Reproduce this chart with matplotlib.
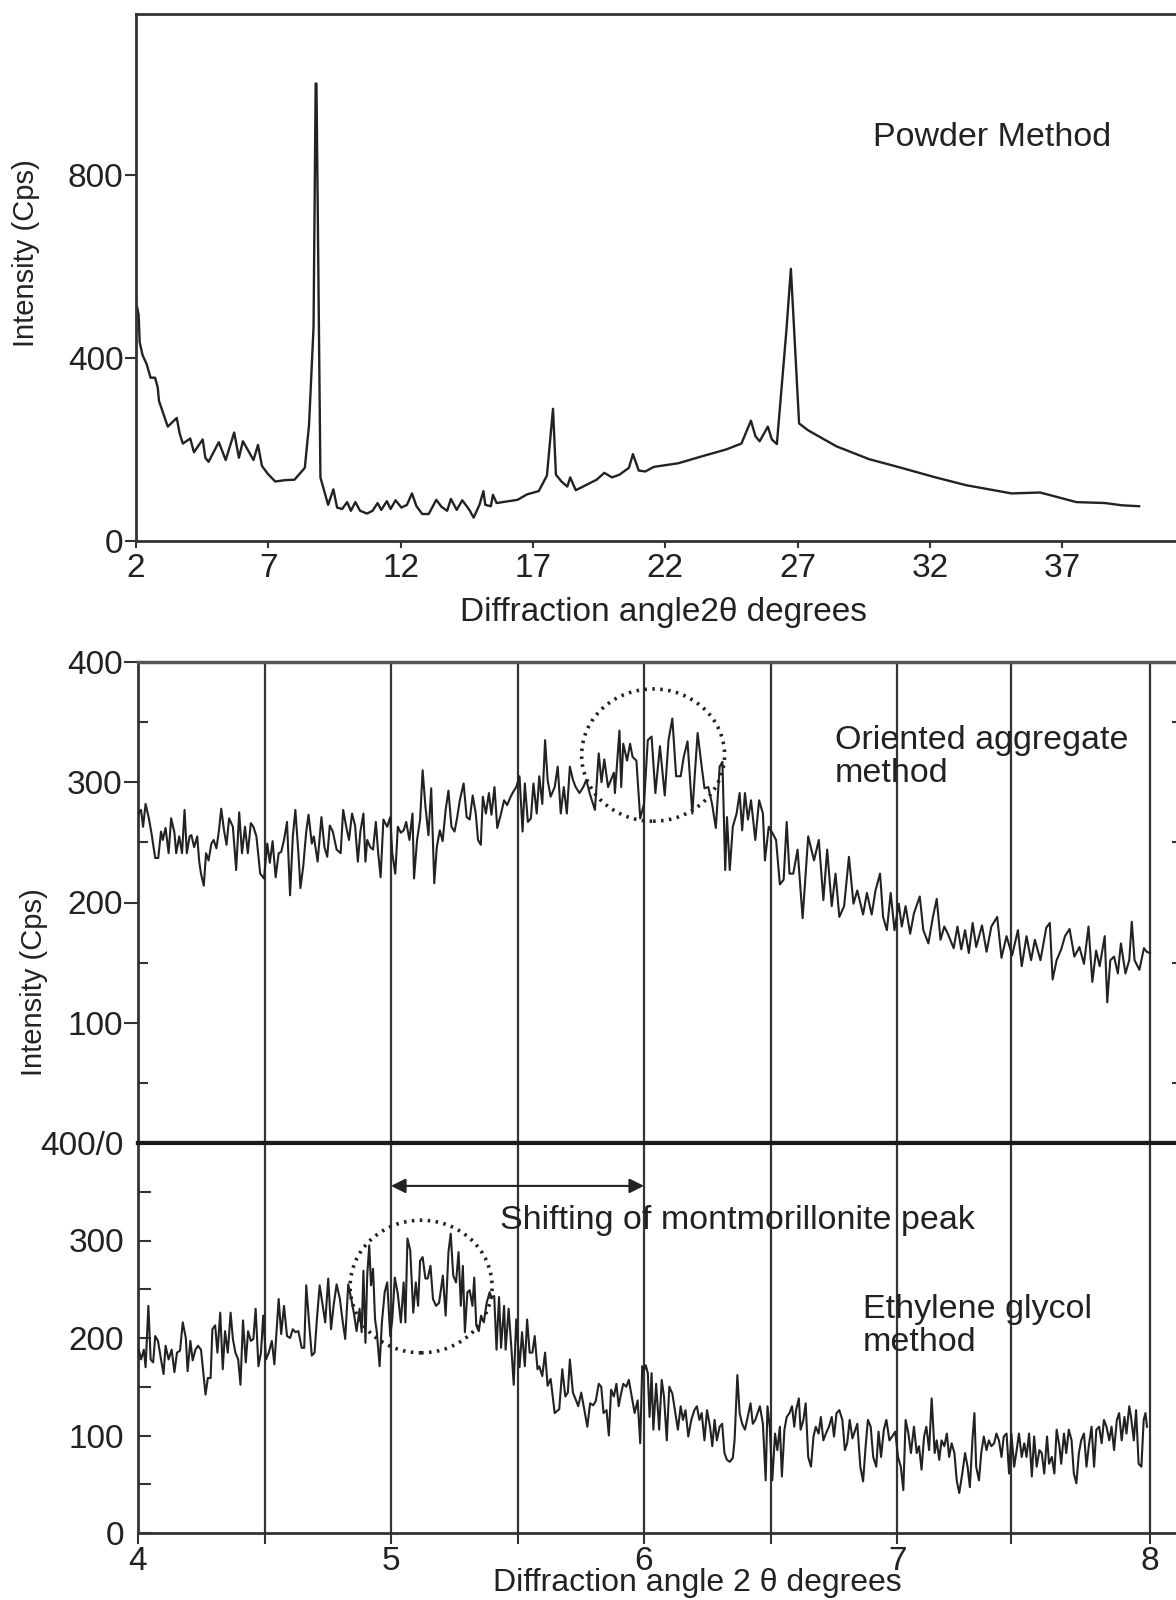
import numpy as np
import matplotlib
matplotlib.use("Agg")
import matplotlib.pyplot as plt
from matplotlib.patches import Ellipse

plt.rcParams['font.family'] = ['Liberation Sans', 'DejaVu Sans']

# Powder method pattern (2theta, cps)
powder = [
    (2.00, 524), (2.10, 494), (2.14, 434), (2.25, 406), (2.40, 387), (2.55, 357), (2.72, 357),
    (2.82, 336), (2.87, 306), (3.20, 250), (3.54, 269), (3.65, 235), (3.77, 213), (4.05, 224),
    (4.19, 194), (4.52, 222), (4.62, 182), (4.74, 173), (5.13, 216), (5.39, 177), (5.71, 237),
    (5.89, 182), (6.04, 218), (6.44, 177), (6.61, 210), (6.76, 164), (6.98, 147), (7.26, 130),
    (7.63, 133), (7.99, 134), (8.38, 160), (8.54, 254), (8.71, 468), (8.79, 1000), (8.82, 1000),
    (8.97, 139), (9.26, 79), (9.46, 113), (9.60, 73), (9.79, 70), (9.98, 85), (10.12, 66),
    (10.29, 85), (10.47, 66), (10.73, 60), (10.94, 66), (11.13, 83), (11.27, 68), (11.48, 87),
    (11.62, 70), (11.81, 89), (12.03, 73), (12.24, 79), (12.43, 104), (12.60, 76), (12.82, 59),
    (13.06, 59), (13.35, 90), (13.54, 75), (13.76, 66), (13.90, 92), (14.12, 68), (14.33, 89),
    (14.55, 72), (14.62, 66), (14.76, 51), (14.98, 79), (15.13, 109), (15.20, 79), (15.41, 76),
    (15.49, 101), (15.63, 83), (16.42, 90), (16.78, 102), (17.22, 109), (17.53, 143), (17.76, 289),
    (17.87, 145), (18.08, 130), (18.30, 119), (18.41, 139), (18.62, 111), (19.41, 134), (19.70, 149),
    (19.99, 139), (20.27, 145), (20.63, 160), (20.78, 190), (21.00, 154), (21.25, 152), (21.57, 162),
    (22.50, 170), (23.44, 186), (24.30, 200), (24.88, 213), (25.24, 263), (25.41, 229), (25.57, 218),
    (25.88, 250), (26.03, 222), (26.22, 212), (26.58, 460), (26.75, 595), (27.06, 257), (27.40, 242),
    (28.47, 207), (29.70, 179), (30.92, 160), (32.22, 139), (33.37, 122), (35.09, 104), (36.17, 106),
    (37.54, 85), (38.62, 83), (39.27, 78), (39.91, 76),
]

# Oriented aggregate method (2theta, cps)
oriented = [
    (4.003, 274), (4.012, 277), (4.020, 263), (4.030, 282), (4.042, 271), (4.053, 258), (4.068, 237),
    (4.080, 237), (4.091, 259), (4.098, 252), (4.109, 262), (4.121, 241), (4.131, 270), (4.144, 258),
    (4.151, 241), (4.163, 255), (4.174, 241), (4.184, 277), (4.193, 241), (4.204, 255), (4.211, 256),
    (4.222, 246), (4.234, 255), (4.242, 234), (4.249, 224), (4.260, 214), (4.269, 241), (4.279, 235),
    (4.290, 249), (4.299, 252), (4.310, 245), (4.320, 260), (4.329, 278), (4.340, 260), (4.350, 248),
    (4.360, 270), (4.375, 263), (4.388, 227), (4.400, 275), (4.411, 241), (4.423, 263), (4.434, 241),
    (4.446, 266), (4.456, 263), (4.468, 255), (4.483, 224), (4.498, 220), (4.511, 249), (4.521, 233),
    (4.532, 251), (4.544, 221), (4.556, 241), (4.566, 242), (4.577, 252), (4.589, 267), (4.601, 206),
    (4.612, 255), (4.622, 277), (4.634, 241), (4.642, 212), (4.653, 230), (4.665, 259), (4.674, 273),
    (4.687, 249), (4.695, 255), (4.710, 234), (4.725, 271), (4.737, 246), (4.748, 238), (4.758, 264),
    (4.770, 259), (4.785, 244), (4.801, 241), (4.811, 277), (4.823, 263), (4.834, 252), (4.846, 274),
    (4.858, 264), (4.869, 234), (4.879, 259), (4.891, 274), (4.899, 234), (4.906, 252), (4.918, 246),
    (4.929, 244), (4.940, 267), (4.949, 242), (4.959, 221), (4.970, 269), (4.985, 263), (4.997, 271),
    (5.005, 241), (5.017, 224), (5.027, 263), (5.039, 258), (5.050, 260), (5.060, 267), (5.073, 252),
    (5.085, 274), (5.091, 220), (5.103, 252), (5.115, 269), (5.125, 310), (5.136, 280), (5.148, 256),
    (5.159, 295), (5.171, 216), (5.181, 246), (5.193, 260), (5.204, 251), (5.216, 277), (5.227, 293),
    (5.239, 263), (5.251, 259), (5.261, 270), (5.272, 285), (5.287, 299), (5.299, 271), (5.311, 269),
    (5.323, 289), (5.335, 274), (5.344, 252), (5.355, 248), (5.363, 288), (5.375, 274), (5.387, 291),
    (5.397, 273), (5.409, 296), (5.420, 262), (5.435, 274), (5.447, 285), (5.459, 281), (5.473, 288),
    (5.483, 292), (5.495, 296), (5.508, 305), (5.520, 259), (5.529, 299), (5.541, 267), (5.553, 270),
    (5.563, 299), (5.576, 274), (5.586, 305), (5.598, 282), (5.609, 335), (5.619, 302), (5.631, 288),
    (5.647, 296), (5.659, 313), (5.671, 274), (5.683, 296), (5.695, 274), (5.707, 313), (5.719, 302),
    (5.730, 296), (5.745, 291), (5.760, 296), (5.772, 302), (5.785, 291), (5.806, 277), (5.821, 324),
    (5.832, 300), (5.843, 319), (5.858, 296), (5.881, 308), (5.885, 291), (5.903, 343), (5.910, 296),
    (5.918, 332), (5.933, 318), (5.945, 332), (5.955, 321), (5.970, 318), (5.985, 270), (6.000, 282),
    (6.015, 335), (6.030, 338), (6.045, 291), (6.063, 330), (6.082, 289), (6.097, 335), (6.112, 353),
    (6.127, 305), (6.145, 305), (6.157, 321), (6.172, 334), (6.191, 274), (6.201, 307), (6.212, 341),
    (6.228, 313), (6.239, 295), (6.254, 296), (6.269, 282), (6.284, 262), (6.299, 313), (6.310, 317),
    (6.321, 227), (6.328, 271), (6.339, 227), (6.351, 263), (6.366, 274), (6.378, 291), (6.388, 260),
    (6.399, 291), (6.411, 269), (6.423, 285), (6.440, 252), (6.455, 285), (6.470, 274), (6.478, 235),
    (6.493, 263), (6.507, 258), (6.522, 252), (6.537, 215), (6.552, 219), (6.564, 267), (6.575, 224),
    (6.590, 224), (6.607, 244), (6.627, 187), (6.649, 255), (6.672, 235), (6.691, 252), (6.709, 202),
    (6.724, 244), (6.742, 197), (6.757, 224), (6.772, 188), (6.791, 197), (6.810, 238), (6.828, 199),
    (6.843, 210), (6.866, 190), (6.881, 208), (6.900, 190), (6.915, 210), (6.933, 224), (6.945, 188),
    (6.960, 177), (6.975, 208), (6.990, 177), (7.007, 199), (7.019, 180), (7.034, 197), (7.052, 174),
    (7.067, 191), (7.090, 205), (7.104, 177), (7.124, 166), (7.142, 188), (7.157, 203), (7.172, 169),
    (7.187, 180), (7.201, 174), (7.224, 162), (7.239, 180), (7.254, 161), (7.269, 177), (7.284, 158),
    (7.299, 183), (7.313, 163), (7.336, 181), (7.354, 159), (7.373, 180), (7.396, 188), (7.413, 154),
    (7.433, 172), (7.455, 156), (7.478, 177), (7.493, 147), (7.512, 172), (7.530, 152), (7.545, 169),
    (7.567, 152), (7.590, 179), (7.604, 183), (7.615, 136), (7.631, 152), (7.649, 161), (7.664, 172),
    (7.682, 178), (7.701, 155), (7.721, 163), (7.739, 149), (7.757, 180), (7.772, 134), (7.787, 160),
    (7.801, 147), (7.821, 172), (7.831, 117), (7.843, 152), (7.858, 155), (7.873, 141), (7.885, 166),
    (7.903, 141), (7.918, 152), (7.928, 184), (7.939, 152), (7.958, 144), (7.976, 162), (7.987, 159),
    (8.000, 158),
]

# Ethylene glycol method (2theta, cps)
glycol = [
    (4.003, 188), (4.012, 178), (4.023, 188), (4.030, 170), (4.041, 233), (4.050, 178), (4.060, 175),
    (4.068, 202), (4.079, 197), (4.091, 178), (4.101, 163), (4.109, 192), (4.121, 178), (4.133, 188),
    (4.144, 165), (4.154, 185), (4.166, 187), (4.177, 216), (4.189, 200), (4.196, 166), (4.207, 197),
    (4.216, 177), (4.227, 188), (4.237, 192), (4.249, 188), (4.267, 142), (4.276, 159), (4.287, 159),
    (4.294, 209), (4.305, 213), (4.314, 185), (4.325, 226), (4.335, 168), (4.344, 207), (4.355, 185),
    (4.366, 226), (4.375, 199), (4.385, 185), (4.396, 178), (4.405, 152), (4.415, 218), (4.426, 175),
    (4.435, 207), (4.446, 197), (4.456, 199), (4.465, 230), (4.476, 171), (4.486, 185), (4.495, 223),
    (4.506, 178), (4.517, 185), (4.529, 197), (4.539, 173), (4.556, 240), (4.566, 204), (4.577, 233),
    (4.589, 202), (4.601, 200), (4.612, 209), (4.622, 206), (4.634, 207), (4.647, 190), (4.657, 190),
    (4.665, 254), (4.677, 213), (4.687, 182), (4.698, 185), (4.707, 219), (4.718, 254), (4.730, 233),
    (4.740, 216), (4.752, 261), (4.763, 209), (4.773, 233), (4.785, 255), (4.798, 240), (4.808, 219),
    (4.819, 199), (4.831, 255), (4.843, 240), (4.853, 226), (4.864, 207), (4.876, 230), (4.884, 206),
    (4.891, 269), (4.899, 195), (4.906, 264), (4.914, 295), (4.921, 254), (4.929, 271), (4.937, 219),
    (4.944, 206), (4.955, 171), (4.964, 216), (4.975, 247), (4.985, 257), (4.997, 202), (5.005, 219),
    (5.015, 262), (5.027, 245), (5.039, 216), (5.050, 257), (5.057, 216), (5.065, 302), (5.076, 290),
    (5.088, 226), (5.098, 257), (5.107, 233), (5.115, 279), (5.125, 283), (5.136, 261), (5.145, 261),
    (5.156, 274), (5.166, 240), (5.178, 233), (5.190, 236), (5.205, 264), (5.216, 223), (5.227, 288),
    (5.236, 307), (5.246, 264), (5.257, 257), (5.267, 288), (5.276, 233), (5.284, 274), (5.292, 206),
    (5.302, 247), (5.311, 249), (5.322, 233), (5.329, 262), (5.337, 213), (5.347, 207), (5.356, 223),
    (5.367, 216), (5.378, 236), (5.390, 247), (5.397, 242), (5.408, 243), (5.417, 188), (5.427, 242),
    (5.435, 190), (5.447, 233), (5.453, 188), (5.465, 230), (5.477, 185), (5.485, 152), (5.495, 219),
    (5.508, 170), (5.518, 206), (5.529, 171), (5.538, 219), (5.548, 185), (5.559, 185), (5.568, 202),
    (5.579, 168), (5.586, 171), (5.598, 161), (5.609, 185), (5.619, 151), (5.631, 158), (5.647, 123),
    (5.665, 127), (5.677, 168), (5.689, 140), (5.699, 144), (5.707, 178), (5.719, 144), (5.730, 137),
    (5.740, 130), (5.752, 144), (5.776, 109), (5.787, 133), (5.799, 131), (5.809, 135), (5.821, 153),
    (5.831, 150), (5.840, 123), (5.852, 126), (5.861, 100), (5.870, 147), (5.881, 140), (5.891, 153),
    (5.900, 130), (5.907, 140), (5.918, 153), (5.930, 150), (5.940, 157), (5.951, 141), (5.963, 123),
    (5.975, 136), (5.985, 92), (5.993, 171), (6.000, 167), (6.007, 172), (6.015, 164), (6.022, 119),
    (6.030, 164), (6.037, 106), (6.048, 153), (6.060, 106), (6.070, 157), (6.079, 140), (6.090, 95),
    (6.100, 150), (6.112, 143), (6.124, 123), (6.134, 106), (6.145, 130), (6.154, 116), (6.164, 126),
    (6.175, 99), (6.187, 116), (6.199, 126), (6.209, 130), (6.219, 116), (6.228, 123), (6.239, 95),
    (6.249, 126), (6.261, 109), (6.270, 89), (6.279, 116), (6.288, 95), (6.299, 109), (6.309, 112),
    (6.318, 82), (6.328, 75), (6.339, 73), (6.351, 77), (6.358, 95), (6.369, 162), (6.378, 123),
    (6.388, 112), (6.399, 106), (6.410, 119), (6.421, 133), (6.430, 112), (6.440, 116), (6.449, 123),
    (6.458, 130), (6.470, 112), (6.481, 54), (6.488, 130), (6.497, 109), (6.507, 54), (6.518, 102),
    (6.527, 85), (6.537, 109), (6.545, 58), (6.555, 106), (6.564, 119), (6.575, 123), (6.585, 130),
    (6.594, 109), (6.601, 126), (6.612, 138), (6.619, 106), (6.630, 116), (6.639, 133), (6.649, 78),
    (6.660, 68), (6.670, 99), (6.679, 109), (6.690, 102), (6.699, 119), (6.709, 95), (6.719, 102),
    (6.731, 109), (6.742, 119), (6.751, 99), (6.761, 123), (6.772, 126), (6.784, 116), (6.794, 85),
    (6.803, 92), (6.813, 116), (6.824, 97), (6.833, 104), (6.843, 112), (6.855, 68), (6.866, 53),
    (6.876, 89), (6.885, 116), (6.896, 109), (6.906, 78), (6.918, 68), (6.927, 104), (6.937, 78),
    (6.948, 106), (6.958, 116), (6.970, 95), (6.981, 99), (6.993, 104), (7.004, 78), (7.015, 68),
    (7.025, 44), (7.034, 116), (7.045, 102), (7.055, 82), (7.067, 109), (7.078, 82), (7.087, 89),
    (7.097, 65), (7.107, 99), (7.116, 109), (7.127, 85), (7.137, 138), (7.149, 82), (7.157, 95),
    (7.167, 75), (7.176, 95), (7.187, 89), (7.197, 102), (7.206, 78), (7.216, 92), (7.227, 82),
    (7.236, 54), (7.246, 41), (7.258, 61), (7.269, 82), (7.279, 68), (7.288, 47), (7.299, 99),
    (7.306, 123), (7.313, 68), (7.324, 54), (7.333, 82), (7.343, 99), (7.354, 85), (7.363, 95),
    (7.373, 89), (7.384, 92), (7.393, 102), (7.403, 95), (7.413, 78), (7.422, 99), (7.433, 102),
    (7.443, 61), (7.452, 102), (7.463, 68), (7.473, 85), (7.482, 102), (7.493, 78), (7.503, 92),
    (7.512, 78), (7.522, 102), (7.533, 58), (7.542, 99), (7.552, 68), (7.563, 85), (7.572, 82),
    (7.582, 61), (7.593, 99), (7.601, 71), (7.612, 78), (7.622, 61), (7.631, 106), (7.642, 89),
    (7.649, 71), (7.660, 102), (7.669, 82), (7.679, 106), (7.690, 95), (7.699, 61), (7.709, 51),
    (7.719, 82), (7.728, 95), (7.739, 102), (7.749, 68), (7.758, 89), (7.769, 109), (7.779, 68),
    (7.788, 106), (7.799, 109), (7.809, 92), (7.818, 116), (7.828, 109), (7.839, 95), (7.848, 109),
    (7.858, 85), (7.869, 116), (7.878, 123), (7.888, 95), (7.899, 119), (7.907, 102), (7.918, 130),
    (7.925, 119), (7.936, 95), (7.945, 126), (7.955, 71), (7.966, 68), (7.975, 116), (7.982, 123),
    (7.988, 109),
]

y_ticks_powder = [0, 400, 800]
x_ticks_powder = [2, 7, 12, 17, 22, 27, 32, 37]
x_ticks_clay = [4, 5, 6, 7, 8]
grid_clay = [4.5, 5, 5.5, 6, 6.5, 7, 7.45, 8]

W, H = 1176, 1600
fig = plt.figure(figsize=(W / 100, H / 100), dpi=100)
ink = '#222222'
spine_c = '#333333'


def rect(l, t, r, b):
    return [l / W, 1 - b / H, (r - l) / W, (b - t) / H]


# ---------------- top panel: powder method ----------------
ax1 = fig.add_axes(rect(136, 14, 1176, 541))
px, py = np.array(powder).T
ax1.plot(px, py, color=ink, lw=1.7)
ax1.set_xlim(2, 2 + (1176 - 136) / 26.46)
ax1.set_ylim(0, 1152)
ax1.set_xticks(x_ticks_powder)
ax1.set_yticks(y_ticks_powder)
ax1.tick_params(axis='both', direction='out', colors=spine_c, labelcolor=ink, labelsize=24, width=1.5)
ax1.tick_params(axis='x', length=5, pad=3.5)
ax1.tick_params(axis='y', length=8, pad=1)
for s in ['left', 'top', 'bottom']:
    ax1.spines[s].set_linewidth(2)
    ax1.spines[s].set_color(spine_c)
ax1.spines['right'].set_visible(False)
fig.text(26 / W, 1 - 253 / H, 'Intensity (Cps)', rotation=90, fontsize=21, color=ink, ha='center', va='center')
fig.text(663 / W, 1 - 612 / H, 'Diffraction angle2θ degrees', fontsize=24, color=ink, ha='center', va='center')
fig.text(873 / W, 1 - 138 / H, 'Powder Method', fontsize=24.5, color=ink, ha='left', va='center')

# ---------------- middle panel: oriented aggregate ----------------
xr = 4 + (1182 - 138) / 253.0
ax2 = fig.add_axes(rect(138, 662, 1182, 1143))
ox, oy = np.array(oriented).T
for g in grid_clay:
    ax2.axvline(g, color=spine_c, lw=1.6, zorder=1)
ax2.plot(ox, oy, color=ink, lw=1.5, zorder=3)
ax2.set_xlim(4, xr)
ax2.set_ylim(0, 400)
ax2.set_xticks([])
ax2.set_yticks([100, 200, 300, 400])
ax2.set_yticks([50, 150, 250, 350], minor=True)
ax2.tick_params(axis='y', which='major', direction='out', length=10, width=1.5, pad=1,
                labelsize=24, colors=spine_c, labelcolor=ink, right=True)
ax2.tick_params(axis='y', which='minor', direction='in', length=7, width=1.5, colors=spine_c, right=True)
ax2.spines['top'].set_linewidth(2.5)
ax2.spines['top'].set_color('#555555')
ax2.spines['left'].set_linewidth(2)
ax2.spines['left'].set_color(spine_c)
ax2.spines['bottom'].set_linewidth(3)
ax2.spines['bottom'].set_color('#1a1a1a')
ax2.spines['right'].set_visible(False)
ax2.add_patch(Ellipse((6.036, 322.6), 0.565, 110, fill=False, ec=ink, lw=2.6,
                      ls=(0, (0.7, 1.5)), zorder=4))
fig.text(835 / W, 1 - 757 / H, 'Oriented aggregate\nmethod', fontsize=24.5, color=ink,
         ha='left', va='center', linespacing=1.12)
fig.text(34 / W, 1 - 982 / H, 'Intensity (Cps)', rotation=90, fontsize=21, color=ink, ha='center', va='center')

# ---------------- bottom panel: ethylene glycol ----------------
ax3 = fig.add_axes(rect(138, 1143, 1182, 1533))
gx, gy = np.array(glycol).T
for g in grid_clay:
    ax3.axvline(g, color=spine_c, lw=1.6, zorder=1)
ax3.plot(gx, gy, color=ink, lw=1.5, zorder=3)
ax3.set_xlim(4, xr)
ax3.set_ylim(0, 400)
ax3.set_xticks(x_ticks_clay)
ax3.set_xticks([4.5, 5.5, 6.5, 7.45], minor=True)
ax3.set_yticks([0, 100, 200, 300, 400])
ax3.set_yticklabels(['0', '100', '200', '300', '400/0'])
ax3.set_yticks([50, 150, 250, 350], minor=True)
ax3.tick_params(axis='x', which='both', direction='out', length=8, width=1.5, pad=1,
                labelsize=24, colors=spine_c, labelcolor=ink)
ax3.tick_params(axis='y', which='major', direction='in', length=9, width=1.5, pad=10,
                labelsize=24, colors=spine_c, labelcolor=ink)
ax3.tick_params(axis='y', which='minor', direction='in', length=9, width=1.5, colors=spine_c)
ax3.spines['top'].set_linewidth(3)
ax3.spines['top'].set_color('#1a1a1a')
for s in ['left', 'bottom']:
    ax3.spines[s].set_linewidth(2)
    ax3.spines[s].set_color(spine_c)
ax3.spines['right'].set_visible(False)
ax3.add_patch(Ellipse((5.119, 252.8), 0.561, 136, fill=False, ec=ink, lw=2.6,
                      ls=(0, (0.7, 1.5)), zorder=4))
ax3.annotate('', xy=(5, 356), xytext=(6, 356),
             arrowprops=dict(arrowstyle='<|-|>', color=ink, lw=1.5, shrinkA=0, shrinkB=0,
                             mutation_scale=22))
fig.text(500 / W, 1 - 1221 / H, 'Shifting of montmorillonite peak', fontsize=24.5, color=ink,
         ha='left', va='center')
fig.text(863 / W, 1 - 1326 / H, 'Ethylene glycol\nmethod', fontsize=24.5, color=ink,
         ha='left', va='center', linespacing=1.12)
fig.text(697 / W, 1 - 1591 / H, 'Diffraction angle 2 θ degrees', fontsize=23, color=ink,
         ha='center', va='baseline')

fig.savefig('out.png', dpi=100)
